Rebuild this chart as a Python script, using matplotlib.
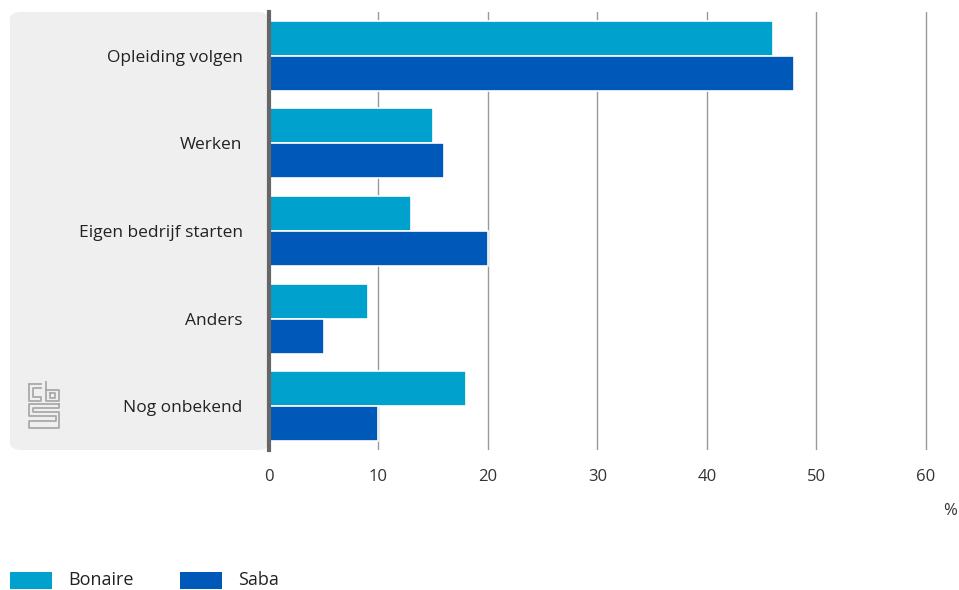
import matplotlib.pyplot as plt
from matplotlib.patches import FancyBboxPatch, Rectangle
from matplotlib.lines import Line2D

# -------------------------------
# Data
# -------------------------------
categories = ["Opleiding volgen", "Werken", "Eigen bedrijf starten", "Anders", "Nog onbekend"]
bonaire = [46, 15, 13, 9, 18]
saba = [48, 16, 20, 5, 10]
series_names = ["Bonaire", "Saba"]
colors = ["#00A1CD", "#0058B8"]
xticks = [0, 10, 20, 30, 40, 50, 60]

W, H = 959, 590
plt.rcParams["font.family"] = ["Open Sans", "DejaVu Sans"]

fig = plt.figure(figsize=(W / 100, H / 100), dpi=100)

# axes in pixel coords: left 269, right 928, top 12, bottom 450
ax_l, ax_r, ax_t, ax_b = 269, 928, 12, 450
ax = fig.add_axes([ax_l / W, 1 - ax_b / H, (ax_r - ax_l) / W, (ax_b - ax_t) / H])
ax.set_facecolor("none")
ax.set_zorder(2)

# grey label panel
panel = FancyBboxPatch((10 / W, 1 - ax_b / H), (ax_l - 10) / W, (ax_b - ax_t) / H,
                       boxstyle="round,pad=0,rounding_size=0.012",
                       transform=fig.transFigure, facecolor="#EFEFEF",
                       edgecolor="none", zorder=-1)
fig.patches.append(panel)

ypos = list(range(len(categories)))
h = 0.4
ax.barh([y - h / 2 for y in ypos], bonaire, height=h, color=colors[0],
        edgecolor="white", linewidth=1.2, zorder=3)
ax.barh([y + h / 2 for y in ypos], saba, height=h, color=colors[1],
        edgecolor="white", linewidth=1.2, zorder=3)

ax.set_ylim(len(categories) - 0.5, -0.5)
ax.set_xlim(0, 60.2)
ax.set_xticks(xticks)
ax.set_xticklabels([str(t) for t in xticks], fontsize=12, color="#333333")
ax.set_yticks(ypos)
ax.set_yticklabels(categories, fontsize=12.5, color="#222222")
ax.tick_params(axis="y", length=0, pad=19)
ax.tick_params(axis="x", length=0, pad=14)

ax.grid(axis="x", color="#999999", linewidth=1, zorder=1)
for s in ["top", "right", "bottom"]:
    ax.spines[s].set_visible(False)
ax.spines["left"].set_color("#666666")
ax.spines["left"].set_linewidth(3)
ax.spines["left"].set_zorder(4)

fig.text(950 / W, 1 - 511 / H, "%", ha="center", va="center", fontsize=12, color="#333333")

# legend
for i, (name, c) in enumerate(zip(series_names, colors)):
    x0 = 10 + i * 170
    fig.patches.append(Rectangle((x0 / W, 1 - 589 / H), 42 / W, 17 / H,
                                 transform=fig.transFigure, facecolor=c, edgecolor="none"))
    fig.text((x0 + 58) / W, 1 - 580 / H, name, ha="left", va="center",
             fontsize=13, color="#222222")

# cbs logo (rough sketch)
def px_line(xs, ys):
    fig.add_artist(Line2D([x / W for x in xs], [1 - y / H for y in ys],
                          color="#AAAAAA", linewidth=1.3, transform=fig.transFigure))

px_line([29, 29, 41, 41, 33, 33, 41], [384, 401, 401, 397, 397, 388, 388])
px_line([29, 41], [384, 384])
px_line([46, 46, 59, 59, 46], [382, 401, 401, 390, 390])
px_line([50, 55, 55, 50, 50], [393, 393, 398, 398, 393])
px_line([59, 29, 29, 56, 56, 29, 29, 59, 59, 33, 33, 59, 59],
        [404, 404, 416, 416, 421, 421, 428, 428, 412, 412, 408, 408, 404])

plt.savefig("out.png", dpi=100)
